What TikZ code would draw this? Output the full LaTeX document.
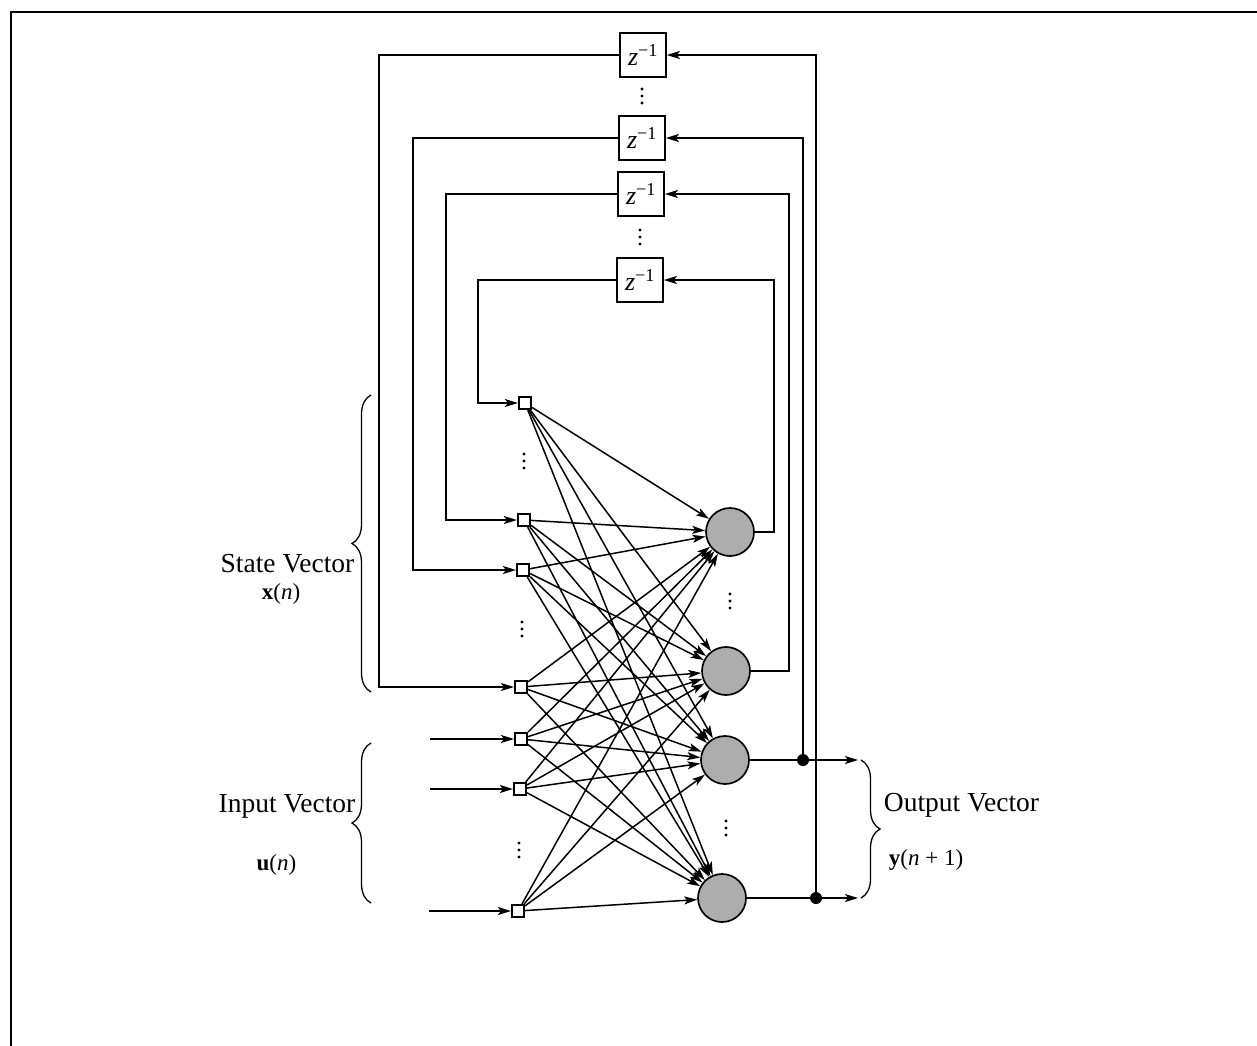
\documentclass[tikz,border=0pt]{standalone}
\usepackage{fontspec}
\setmainfont{Liberation Serif}
\usetikzlibrary{arrows.meta,decorations.pathreplacing}
\begin{document}
\begin{tikzpicture}[x=1pt,y=-1pt,
  line width=1.7pt,
  arr/.style={-{Stealth[length=13pt,width=8pt,inset=3pt]}},
  delay/.style={draw,minimum width=46pt,minimum height=44pt,inner sep=0pt,font=\fontsize{26}{26}\selectfont},
  inp/.style={draw,fill=white,minimum size=12.5pt,inner sep=0pt},
  neuron/.style={draw,circle,fill=black!32,minimum size=48pt,inner sep=0pt},
  junc/.style={circle,fill=black,minimum size=12pt,inner sep=0pt},
  lbl/.style={font=\fontsize{27.5}{30}\selectfont,inner sep=0pt,anchor=base},
  sublbl/.style={font=\fontsize{23}{26}\selectfont,inner sep=0pt,anchor=base},
  brc/.style={decorate,decoration={brace,amplitude=19pt},line width=1.3pt},
  net/.style={arr,line width=1.5pt},
  vdots/.pic={\fill (0,-7) circle (1.6pt) (0,0) circle (1.6pt) (0,7) circle (1.6pt);}
]
\useasboundingbox (0,0) rectangle (1257,1045);
% frame
\draw[line width=2.5pt] (11,1046) -- (11,12) -- (1258,12);

% delay boxes
\node[delay] (b1) at (643,55) {\textit{z}\textsuperscript{−1}};
\node[delay] (b2) at (642,138) {\textit{z}\textsuperscript{−1}};
\node[delay] (b3) at (641,194) {\textit{z}\textsuperscript{−1}};
\node[delay] (b4) at (640,280) {\textit{z}\textsuperscript{−1}};

% input-layer nodes
\node[inp] (s1) at (525,403) {};
\node[inp] (s2) at (524,520) {};
\node[inp] (s3) at (523,570) {};
\node[inp] (s4) at (521,687) {};
\node[inp] (u1) at (521,739) {};
\node[inp] (u2) at (520,789) {};
\node[inp] (u3) at (518,911) {};

% neurons
\node[neuron] (n1) at (730,532) {};
\node[neuron] (n2) at (726,671) {};
\node[neuron] (n3) at (725,760) {};
\node[neuron] (n4) at (722,898) {};

% fully connected layer
\foreach \s in {s1,s2,s3,s4,u1,u2,u3}
  \foreach \n in {n1,n2,n3,n4}
    \draw[net] (\s) -- (\n);

% feedback corners
\coordinate (r4) at (774,280);
\coordinate (r3) at (789,194);
\node[junc] (o1) at (803,760) {};
\node[junc] (o2) at (816,898) {};
\coordinate (l4) at (478,403);
\coordinate (l3) at (446,520);
\coordinate (l2) at (413,570);
\coordinate (l1) at (379,687);

\draw[arr] (n1.east) -| (r4) -- (b4.east);
\draw[arr] (n2.east) -| (r3) -- (b3.east);
\draw (n3.east) -- (o1.center);
\draw[arr] (o1.center) |- (b2.east);
\draw (n4.east) -- (o2.center);
\draw[arr] (o2.center) |- (b1.east);

\draw[arr] (b4.west) -| (l4) -- (s1.west);
\draw[arr] (b3.west) -| (l3) -- (s2.west);
\draw[arr] (b2.west) -| (l2) -- (s3.west);
\draw[arr] (b1.west) -| (l1) -- (s4.west);

% external inputs
\coordinate (i1) at (430,739);
\coordinate (i2) at (430,789);
\coordinate (i3) at (429,911);
\draw[arr] (i1) -- (u1.west);
\draw[arr] (i2) -- (u2.west);
\draw[arr] (i3) -- (u3.west);

% outputs
\coordinate (y1) at (858,760);
\coordinate (y2) at (858,898);
\draw[arr] (o1.center) -- (y1);
\draw[arr] (o2.center) -- (y2);

% ellipses
\pic at (642,96) {vdots};
\pic at (640,237) {vdots};
\pic at (524,461) {vdots};
\pic at (522,629) {vdots};
\pic at (519,850) {vdots};
\pic at (730,601) {vdots};
\pic at (726,828) {vdots};

% braces
\draw[brc] (371,692) -- (371,395);
\draw[brc] (371,903) -- (371,743);
\draw[brc] (861,760) -- (861,898);

% labels
\node[lbl] (sv) at (287.5,572) {State Vector};
\node[sublbl] (xn) at (281,599) {\textbf{x}(\textit{n})};
\node[lbl] (iv) at (287,812) {Input Vector};
\node[sublbl] (un) at (276.5,870) {\textbf{u}(\textit{n})};
\node[lbl] (ov) at (961.5,811) {Output Vector};
\node[sublbl] (yn) at (926,865) {\textbf{y}(\textit{n} + 1)};
\end{tikzpicture}
\end{document}
